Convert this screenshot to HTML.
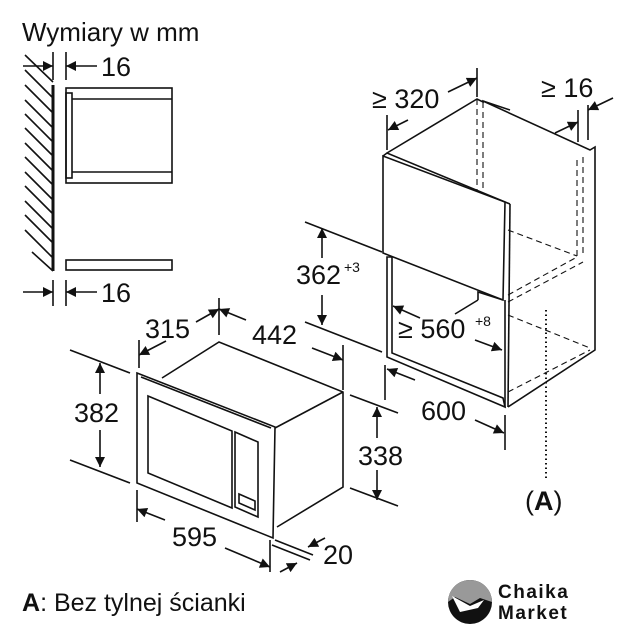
<!DOCTYPE html>
<html><head><meta charset="utf-8"><style>
html,body{margin:0;padding:0;background:#fff;width:634px;height:640px;overflow:hidden}
svg{display:block}
text{font-family:"Liberation Sans",sans-serif;fill:#111}
</style></head><body>
<svg width="634" height="640" viewBox="0 0 634 640" xmlns="http://www.w3.org/2000/svg">
<defs>
<marker id="a" viewBox="0 0 10 10" refX="10" refY="5" markerWidth="13" markerHeight="10" markerUnits="userSpaceOnUse" orient="auto-start-reverse"><path d="M0,0 L10,5 L0,10z" fill="#111"/></marker>
</defs>
<g stroke="#111" stroke-width="1.6" fill="none">
<!-- LEFT SIDE VIEW -->
<line x1="53" y1="85" x2="53" y2="271" stroke-width="3"/>
<g stroke-width="1.6">
<line x1="25" y1="55" x2="53" y2="82"/><line x1="25" y1="70" x2="53" y2="98"/><line x1="25" y1="85" x2="53" y2="113"/>
<line x1="25" y1="100" x2="53" y2="128"/><line x1="25" y1="114" x2="53" y2="142"/><line x1="25" y1="128" x2="53" y2="156"/>
<line x1="25" y1="143" x2="53" y2="171"/><line x1="25" y1="157" x2="53" y2="185"/><line x1="25" y1="172" x2="53" y2="200"/>
<line x1="25" y1="186" x2="53" y2="214"/><line x1="25" y1="201" x2="53" y2="229"/><line x1="25" y1="215" x2="53" y2="243"/>
<line x1="25" y1="230" x2="53" y2="258"/><line x1="32" y1="252" x2="53" y2="271"/>
</g>
<rect x="66" y="88" width="106" height="95"/>
<line x1="72" y1="99" x2="172" y2="99"/>
<line x1="72" y1="172" x2="172" y2="172"/>
<rect x="66" y="93" width="6" height="85"/>
<rect x="66" y="260" width="106" height="10"/>
<line x1="53" y1="52" x2="53" y2="80"/><line x1="66" y1="52" x2="66" y2="80"/>
<line x1="23" y1="66" x2="53" y2="66" marker-end="url(#a)"/>
<line x1="97" y1="66" x2="66" y2="66" marker-end="url(#a)"/>
<line x1="53" y1="280" x2="53" y2="306"/><line x1="66" y1="280" x2="66" y2="306"/>
<line x1="23" y1="292" x2="53" y2="292" marker-end="url(#a)"/>
<line x1="97" y1="292" x2="66" y2="292" marker-end="url(#a)"/>

<!-- MICROWAVE -->
<path d="M137,373 L275,427 L273,538 L137,483 Z"/>
<path d="M141,377 L271,428"/>
<path d="M162,378 L219,342 L343,392 L343,487 L277,527"/>
<path d="M275,428 L343,392"/>
<path d="M148,396 L232,431 L232,508 L148,473 Z"/>
<path d="M235,432 L258,442 L258,517 L235,507 Z"/>
<path d="M239,494 L255,501 L255,510 L239,503 Z"/>
<line x1="219" y1="298" x2="219" y2="335"/>
<line x1="139" y1="340" x2="139" y2="368"/>
<line x1="196" y1="322" x2="219" y2="309" marker-end="url(#a)"/>
<line x1="166" y1="341" x2="139" y2="355" marker-end="url(#a)"/>
<line x1="246" y1="320" x2="219" y2="309" marker-end="url(#a)"/>
<line x1="312" y1="348" x2="343" y2="360" marker-end="url(#a)"/>
<line x1="343" y1="345" x2="343" y2="390"/>
<line x1="70" y1="350" x2="130" y2="373"/>
<line x1="70" y1="460" x2="130" y2="483"/>
<line x1="100" y1="394" x2="100" y2="363" marker-end="url(#a)"/>
<line x1="100" y1="430" x2="100" y2="467" marker-end="url(#a)"/>
<line x1="350" y1="395" x2="398" y2="413"/>
<line x1="350" y1="488" x2="398" y2="506"/>
<line x1="377" y1="438" x2="377" y2="407" marker-end="url(#a)"/>
<line x1="377" y1="470" x2="377" y2="500" marker-end="url(#a)"/>
<line x1="137" y1="490" x2="137" y2="522"/>
<line x1="270" y1="540" x2="270" y2="572"/>
<line x1="165" y1="520" x2="137" y2="509" marker-end="url(#a)"/>
<line x1="225" y1="548" x2="270" y2="567" marker-end="url(#a)"/>
<line x1="275" y1="540" x2="313" y2="555"/>
<line x1="272" y1="545" x2="310" y2="560"/>
<line x1="325" y1="538" x2="308" y2="547" marker-end="url(#a)"/>
<line x1="280" y1="572" x2="297" y2="563" marker-end="url(#a)"/>

<!-- CABINET -->
<path d="M383,156 L383,253 L503,300 L505,202 Z"/>
<path d="M383,156 L387,153 L510,204 L505,202"/>
<path d="M387,153 L477,99 L483,102 L483,101 L590,150 L595,147 L595,350 L508,407"/>
<path d="M510,204 L508,407"/>
<path d="M483,101 L510,110"/>
<path d="M387,257 L392,257 L392,353 L503,398 L505,407 L387,357 Z"/>
<line x1="505" y1="300" x2="505" y2="407"/>
<path d="M478,300 L478,292 L503,300"/>
<path d="M478,300 L455,314"/>
<g stroke-dasharray="6,4" stroke-width="1.1">
<line x1="477" y1="99" x2="477" y2="190"/>
<line x1="483" y1="102" x2="483" y2="190"/>
<line x1="577" y1="160" x2="577" y2="257"/>
<line x1="583" y1="157" x2="583" y2="255"/>
<line x1="508" y1="230" x2="577" y2="256"/>
<line x1="508" y1="295" x2="577" y2="257"/>
<line x1="508" y1="302" x2="583" y2="262"/>
<line x1="508" y1="315" x2="590" y2="348"/>
<line x1="508" y1="392" x2="590" y2="350"/>
</g>
<line x1="546" y1="310" x2="546" y2="478" stroke-dasharray="1.5,3" stroke-width="2"/>
<line x1="387" y1="115" x2="387" y2="150"/>
<line x1="477" y1="68" x2="477" y2="97"/>
<line x1="448" y1="92" x2="477" y2="78" marker-end="url(#a)"/>
<line x1="408" y1="120" x2="388" y2="130" marker-end="url(#a)"/>
<line x1="578" y1="110" x2="578" y2="142"/>
<line x1="588" y1="105" x2="588" y2="140"/>
<line x1="555" y1="133" x2="578" y2="122" marker-end="url(#a)"/>
<line x1="613" y1="98" x2="588" y2="110" marker-end="url(#a)"/>
<line x1="305" y1="222" x2="382" y2="252"/>
<line x1="305" y1="322" x2="382" y2="352"/>
<line x1="322" y1="258" x2="322" y2="228" marker-end="url(#a)"/>
<line x1="322" y1="295" x2="322" y2="325" marker-end="url(#a)"/>
<line x1="420" y1="318" x2="393" y2="306" marker-end="url(#a)"/>
<line x1="475" y1="340" x2="502" y2="350" marker-end="url(#a)"/>
<line x1="385" y1="365" x2="385" y2="400"/>
<line x1="505" y1="415" x2="505" y2="450"/>
<line x1="415" y1="380" x2="387" y2="369" marker-end="url(#a)"/>
<line x1="475" y1="420" x2="504" y2="433" marker-end="url(#a)"/>
</g>

<!-- TEXT -->
<text x="22" y="41" font-size="26">Wymiary w mm</text>
<text x="101" y="76" font-size="27">16</text>
<text x="101" y="302" font-size="27">16</text>
<text x="145" y="338" font-size="27">315</text>
<text x="252" y="344" font-size="27">442</text>
<text x="74" y="422" font-size="27">382</text>
<text x="358" y="465" font-size="27">338</text>
<text x="172" y="546" font-size="27">595</text>
<text x="323" y="564" font-size="27">20</text>
<text x="372" y="108" font-size="27">≥ 320</text>
<text x="541" y="97" font-size="27">≥ 16</text>
<text x="296" y="284" font-size="27">362</text>
<text x="344" y="272" font-size="14">+3</text>
<text x="398" y="338" font-size="27">≥ 560</text>
<text x="475" y="326" font-size="14">+8</text>
<text x="421" y="420" font-size="27">600</text>
<text x="525" y="510" font-size="27">(<tspan font-weight="bold">A</tspan>)</text>
<text x="22" y="611" font-size="25"><tspan font-weight="bold">A</tspan>: Bez tylnej ścianki</text>

<!-- LOGO -->
<circle cx="470" cy="602" r="22" fill="#111"/>
<path d="M448,602 A22,22 0 0 1 492,602 L480,598 L470,604 L455,597 Z" fill="#999"/>
<path d="M452,596 L470,606 L484,600 L478,608 L460,612 Z" fill="#fff"/>
<text x="498" y="598" font-size="19" font-weight="bold" style="letter-spacing:1.5px">Chaika</text>
<text x="498" y="619" font-size="19" font-weight="bold" style="letter-spacing:1.5px">Market</text>
</svg>
</body></html>
